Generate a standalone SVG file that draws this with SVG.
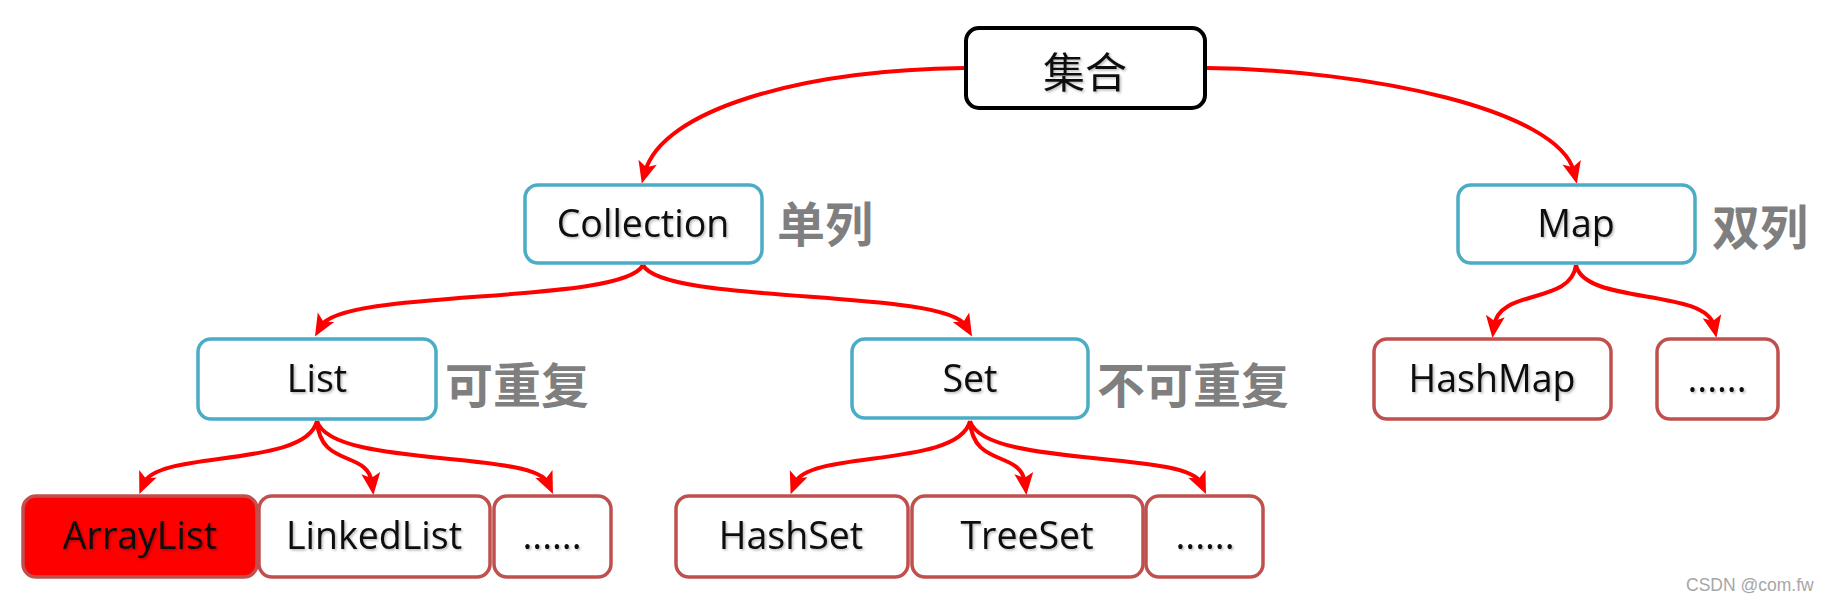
<svg xmlns="http://www.w3.org/2000/svg" width="1834" height="602" viewBox="0 0 1834 602">
<style>
.bg{fill:#ffffff}
.root rect{fill:#ffffff;stroke:#000000;stroke-width:4}
.blue rect{fill:#ffffff;stroke:#4BACC6;stroke-width:3.5}
.leaf rect{fill:#ffffff;stroke:#C0504D;stroke-width:3.5}
.leaf.hot rect{fill:#FF0000}
.lt{font-family:"Open Sans","Liberation Sans",sans-serif;font-size:37.5px;fill:#0a0a0a;text-anchor:middle;filter:url(#ts)}
.cjk{font-family:"Noto Sans CJK SC",sans-serif;font-size:42px;font-weight:400;fill:#111111;text-anchor:middle;dominant-baseline:central;filter:url(#ts)}
.note{font-family:"Noto Sans CJK SC",sans-serif;font-size:48px;font-weight:700;fill:#7F7F7F;text-anchor:middle;dominant-baseline:central}
.wm{font-family:"Liberation Sans",Arial,sans-serif;font-size:17.5px;fill:#A6A6A6}
#connectors path{fill:none;stroke:#FF0000;stroke-width:4;marker-end:url(#ah)}
</style>
<defs>
<filter id="ts" x="-10%" y="-20%" width="120%" height="150%">
<feDropShadow dx="1.5" dy="1.5" stdDeviation="1" flood-color="#000000" flood-opacity="0.28"/>
</filter>
<marker id="ah" markerUnits="userSpaceOnUse" markerWidth="26" markerHeight="24" viewBox="-12 -12 26 24" refX="0" refY="0" orient="auto">
<path d="M12,0 L-10,-9.5 L-5,0 L-10,9.5 Z" fill="#FF0000"/>
</marker>
</defs>
<rect class="bg" x="0" y="0" width="1834" height="602"/>

<g id="connectors">
<path d="M964,68 C 800,70 662,110 645,172"/>
<path d="M1207,68 C 1370,70 1559,110 1574,172"/>
<path d="M643,265 C 623,305 343,288 321,326"/>
<path d="M643,265 C 663,305 944,288 966,326"/>
<path d="M1576,265 C 1571,305 1499,288 1494,326"/>
<path d="M1576,265 C 1584,305 1706,288 1714,326"/>
<path d="M317,421 C 306,468 158,450 144,483"/>
<path d="M317,421 C 320,468 368,450 372,483"/>
<path d="M317,421 C 331,468 533,450 548,483"/>
<path d="M970,421 C 959,468 808,450 795,483"/>
<path d="M970,421 C 973,468 1021,450 1025,483"/>
<path d="M970,421 C 984,468 1186,450 1201,483"/>
</g>

<g id="node-jihe" class="root">
<rect x="966" y="28" width="239" height="80" rx="13"/>
<text class="cjk" x="1085" y="69">集合</text>
</g>

<g id="node-collection" class="blue">
<rect x="525" y="185" width="237" height="78" rx="13"/>
<text class="lt" x="643" y="237">Collection</text>
</g>
<text id="label-danlie" class="note" x="825" y="221">单列</text>

<g id="node-map" class="blue">
<rect x="1458" y="185" width="237" height="78" rx="13"/>
<text class="lt" x="1576" y="237">Map</text>
</g>
<text id="label-shuanglie" class="note" x="1760" y="224">双列</text>

<g id="node-list" class="blue">
<rect x="198" y="339" width="238" height="80" rx="13"/>
<text class="lt" x="317" y="392">List</text>
</g>
<text id="label-kechongfu" class="note" x="517" y="382">可重复</text>

<g id="node-set" class="blue">
<rect x="852" y="339" width="236" height="79" rx="13"/>
<text class="lt" x="970" y="392">Set</text>
</g>
<text id="label-bukechongfu" class="note" x="1193" y="382">不可重复</text>

<g id="node-hashmap" class="leaf">
<rect x="1374" y="339" width="237" height="80" rx="13"/>
<text class="lt" x="1492" y="392">HashMap</text>
</g>

<g id="node-map-more" class="leaf">
<rect x="1657" y="339" width="121" height="80" rx="13"/>
<text class="lt" x="1717" y="392">......</text>
</g>

<g id="node-arraylist" class="leaf hot">
<rect x="23" y="496" width="234" height="81" rx="13"/>
<text class="lt" x="140" y="549">ArrayList</text>
</g>

<g id="node-linkedlist" class="leaf">
<rect x="259" y="496" width="231" height="81" rx="13"/>
<text class="lt" x="374" y="549">LinkedList</text>
</g>

<g id="node-list-more" class="leaf">
<rect x="494" y="496" width="117" height="81" rx="13"/>
<text class="lt" x="552" y="549">......</text>
</g>

<g id="node-hashset" class="leaf">
<rect x="676" y="496" width="232" height="81" rx="13"/>
<text class="lt" x="791" y="549">HashSet</text>
</g>

<g id="node-treeset" class="leaf">
<rect x="912" y="496" width="231" height="81" rx="13"/>
<text class="lt" x="1027" y="549">TreeSet</text>
</g>

<g id="node-set-more" class="leaf">
<rect x="1146" y="496" width="117" height="81" rx="13"/>
<text class="lt" x="1205" y="549">......</text>
</g>

<text id="watermark" class="wm" x="1686" y="591">CSDN @com.fw</text>
</svg>
